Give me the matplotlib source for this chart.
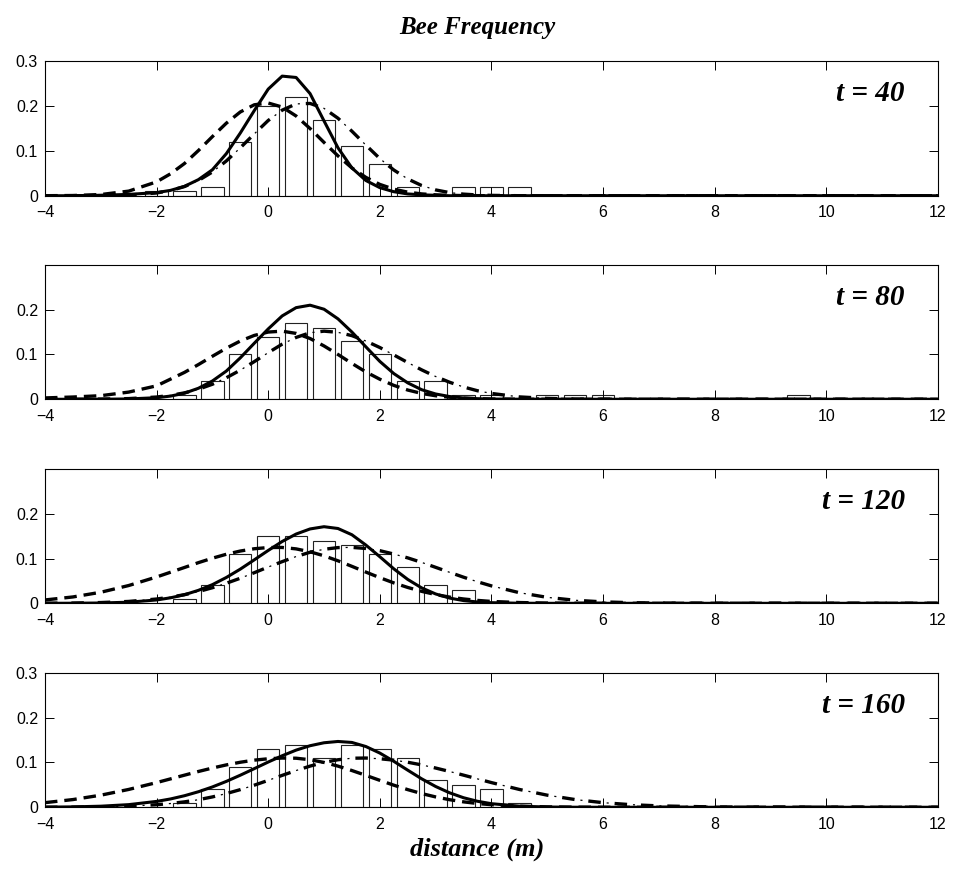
import numpy as np
import matplotlib
matplotlib.use("Agg")
import matplotlib.pyplot as plt

plt.rcParams['font.family'] = ['Liberation Sans', 'DejaVu Sans']
plt.rcParams['lines.scale_dashes'] = False

# histogram bins (bar centres) and relative frequencies per time
bins = [-2, -1.5, -1, -0.5, 0, 0.5, 1, 1.5, 2, 2.5, 3, 3.5,
        4, 4.5, 5, 5.5, 6, 6.5, 7, 7.5, 8, 8.5, 9, 9.5]
freq_40 = [0.01, 0.01, 0.02, 0.12, 0.20, 0.22, 0.17, 0.11, 0.07, 0.02, 0, 0.02,
           0.02, 0.02, 0, 0, 0, 0, 0, 0, 0, 0, 0, 0]
freq_80 = [0, 0.01, 0.04, 0.10, 0.14, 0.17, 0.16, 0.13, 0.10, 0.04, 0.04, 0.01,
           0.01, 0, 0.01, 0.01, 0.01, 0, 0, 0, 0, 0, 0, 0.01]
freq_120 = [0, 0.01, 0.04, 0.11, 0.15, 0.15, 0.14, 0.13, 0.11, 0.08, 0.04, 0.03,
            0, 0, 0, 0, 0, 0, 0, 0, 0, 0, 0, 0]
freq_160 = [0, 0.01, 0.04, 0.09, 0.13, 0.14, 0.11, 0.14, 0.13, 0.11, 0.06, 0.05,
            0.04, 0.01, 0, 0, 0, 0, 0, 0, 0, 0, 0, 0]

# model curves
xs = [-4, -3.5, -3, -2.5, -2, -1.75, -1.5, -1.25, -1, -0.75, -0.5, -0.25, 0,
      0.25, 0.5, 0.75, 1, 1.25, 1.5, 1.75, 2, 2.25, 2.5, 2.75, 3, 3.25, 3.5,
      3.75, 4, 4.5, 5, 5.5, 6, 6.5, 7, 8, 12]

solid_40 = [0, 0, 0.001, 0.003, 0.007, 0.012, 0.021, 0.036, 0.058, 0.094, 0.14,
            0.19, 0.238, 0.267, 0.264, 0.228, 0.167, 0.107, 0.062, 0.034, 0.018,
            0.009, 0.004, 0.002, 0.001, 0, 0, 0, 0, 0, 0, 0, 0, 0, 0, 0, 0]
dash_40 = [0.0001, 0.0005, 0.0027, 0.0103, 0.031, 0.049, 0.072, 0.101, 0.132,
           0.162, 0.187, 0.203, 0.207, 0.198, 0.178, 0.150, 0.119, 0.089, 0.062,
           0.041, 0.0253, 0.0147, 0.008, 0.0041, 0.002, 0.0009, 0.0004, 0.0002,
           0.0001, 0, 0, 0, 0, 0, 0, 0, 0]
dashdot_40 = [0, 0, 0.0003, 0.0014, 0.0062, 0.0116, 0.0205, 0.034, 0.053, 0.0777,
              0.107, 0.138, 0.168, 0.191, 0.205, 0.206, 0.195, 0.173, 0.144,
              0.113, 0.083, 0.0575, 0.0375, 0.0228, 0.013, 0.007, 0.0036, 0.0017,
              0.0008, 0.0001, 0, 0, 0, 0, 0, 0, 0]

solid_80 = [0, 0, 0.0001, 0.0007, 0.0035, 0.0071, 0.0136, 0.0246, 0.0408, 0.063,
            0.0925, 0.125, 0.157, 0.186, 0.2045, 0.21, 0.201, 0.1795, 0.150,
            0.117, 0.0845, 0.0574, 0.0366, 0.0213, 0.0118, 0.0061, 0.0029,
            0.0013, 0.0005, 0.0001, 0, 0, 0, 0, 0, 0, 0]
dash_80 = [0.003, 0.005, 0.008, 0.016, 0.03, 0.045, 0.060, 0.0775, 0.096, 0.114,
           0.130, 0.1425, 0.150, 0.152, 0.147, 0.1356, 0.119, 0.100, 0.080,
           0.061, 0.0447, 0.031, 0.0206, 0.013, 0.0078, 0.0045, 0.0025, 0.0013,
           0.0006, 0.0001, 0, 0, 0, 0, 0, 0, 0]
dashdot_80 = [0, 0.0001, 0.0004, 0.0015, 0.005, 0.0087, 0.0143, 0.0224, 0.0335,
              0.048, 0.065, 0.084, 0.104, 0.123, 0.138, 0.1485, 0.152, 0.1494,
              0.142, 0.130, 0.1155, 0.099, 0.082, 0.0656, 0.0508, 0.038, 0.0274,
              0.019, 0.013, 0.0053, 0.0019, 0.0006, 0.0002, 0, 0, 0, 0]

solid_120 = [0, 0.0002, 0.0007, 0.0025, 0.0075, 0.0123, 0.0192, 0.029, 0.0417,
             0.0577, 0.0763, 0.097, 0.118, 0.138, 0.1546, 0.166, 0.171, 0.167,
             0.153, 0.130, 0.104, 0.077, 0.0533, 0.0344, 0.0209, 0.0117, 0.0061,
             0.003, 0.0014, 0.0002, 0, 0, 0, 0, 0, 0, 0]
dash_120 = [0.0075, 0.0142, 0.0247, 0.0397, 0.0588, 0.0694, 0.080, 0.0908,
            0.1007, 0.1095, 0.1167, 0.1218, 0.1245, 0.1247, 0.1215, 0.115,
            0.106, 0.0949, 0.0825, 0.0697, 0.0572, 0.0456, 0.0354, 0.0267,
            0.0196, 0.0139, 0.0097, 0.0065, 0.0042, 0.0017, 0.0006, 0.0002,
            0, 0, 0, 0, 0]
dashdot_120 = [0.0002, 0.0006, 0.0017, 0.0042, 0.0096, 0.0138, 0.0193, 0.0262,
               0.0348, 0.0448, 0.056, 0.0683, 0.081, 0.093, 0.1044, 0.114,
               0.1206, 0.1244, 0.1248, 0.1224, 0.1175, 0.110, 0.1014, 0.0913,
               0.0803, 0.0692, 0.0583, 0.0481, 0.0389, 0.0237, 0.0133, 0.0068,
               0.0032, 0.0014, 0.0006, 0.0001, 0]

solid_160 = [0.0003, 0.0009, 0.0024, 0.0059, 0.0131, 0.0186, 0.0258, 0.0347,
             0.0454, 0.0578, 0.0716, 0.0862, 0.101, 0.115, 0.1276, 0.1374,
             0.144, 0.1469, 0.1447, 0.1356, 0.121, 0.1026, 0.0828, 0.0635,
             0.0464, 0.0323, 0.0213, 0.0134, 0.008, 0.0025, 0.0006, 0.0001,
             0, 0, 0, 0, 0]
dash_160 = [0.0103, 0.0172, 0.027, 0.0398, 0.0551, 0.0634, 0.0717, 0.0799,
            0.0876, 0.0946, 0.1005, 0.1052, 0.1083, 0.1099, 0.1095, 0.1061,
            0.1001, 0.0919, 0.082, 0.0712, 0.0601, 0.0493, 0.0394, 0.0306,
            0.0231, 0.0169, 0.0121, 0.0084, 0.0057, 0.0024, 0.0009, 0.0003,
            0.0001, 0, 0, 0, 0]
dashdot_160 = [0.0001, 0.0003, 0.0009, 0.0024, 0.0057, 0.0084, 0.0121, 0.0169,
               0.0231, 0.0306, 0.0394, 0.0493, 0.0601, 0.0712, 0.082, 0.0919,
               0.1001, 0.1061, 0.1095, 0.1099, 0.1083, 0.1052, 0.1005, 0.0946,
               0.0876, 0.0799, 0.0717, 0.0634, 0.0551, 0.0398, 0.027, 0.0172,
               0.0103, 0.0058, 0.0031, 0.0007, 0]

times = [40, 80, 120, 160]
freqs = [freq_40, freq_80, freq_120, freq_160]
solids = [solid_40, solid_80, solid_120, solid_160]
dashes = [dash_40, dash_80, dash_120, dash_160]
dashdots = [dashdot_40, dashdot_80, dashdot_120, dashdot_160]

serif = dict(family=['Liberation Serif', 'DejaVu Serif'], weight='bold',
             style='italic')

fig = plt.figure(figsize=(9.55, 8.75), dpi=100)
bottoms = [0.7763, 0.5437, 0.3105, 0.0774]

for i in range(4):
    ax = fig.add_axes([0.0471, bottoms[i], 0.935, 0.1536])
    ax.bar(bins, freqs[i], width=0.4, facecolor='white', edgecolor='#222222',
           linewidth=0.8, zorder=1)
    ax.plot(xs, solids[i], color='black', lw=2.2, zorder=3)
    ax.plot(xs, dashes[i], color='black', lw=2.4, ls=(0, (9, 5)), zorder=3)
    # dash-dot: thick dashes with a thin dot in each gap
    ax.plot(xs, dashdots[i], color='black', lw=2.4, ls=(0, (9, 10)), zorder=3)
    ax.plot(xs, dashdots[i], color='black', lw=0.9, ls=(5.75, (1.5, 17.5)),
            zorder=3)

    ax.set_xlim(-4, 12)
    ax.set_ylim(0, 0.3)
    ax.set_xticks(np.arange(-4, 13, 2))
    if i in (0, 3):
        ax.set_yticks([0, 0.1, 0.2, 0.3])
        ax.set_yticklabels(['0', '0.1', '0.2', '0.3'])
    else:
        ax.set_yticks([0, 0.1, 0.2])
        ax.set_yticklabels(['0', '0.1', '0.2'])
    ax.tick_params(direction='in', top=True, right=True, length=6.5,
                   width=0.7, labelsize=11.5)
    ax.tick_params(axis='x', pad=7)
    ax.tick_params(axis='y', pad=5)
    for sp in ax.spines.values():
        sp.set_linewidth(0.8)

    ax.text(0.963, 0.76, 't = %d' % times[i], transform=ax.transAxes,
            ha='right', va='center', fontsize=21, **serif)

fig.text(0.5, 0.969, 'Bee Frequency', ha='center', va='center',
         fontsize=18, **serif)
fig.text(0.5, 0.029, 'distance (m)', ha='center', va='center',
         fontsize=19, **serif)

fig.savefig('out.png', dpi=100)
